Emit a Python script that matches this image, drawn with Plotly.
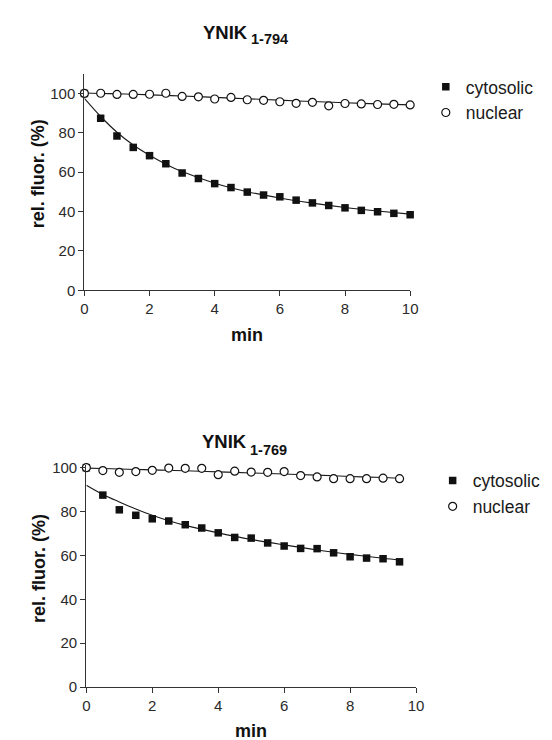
import plotly.graph_objects as go

W, H = 552, 740

# ---------------- data ----------------
time_794 = [0, 0.5, 1, 1.5, 2, 2.5, 3, 3.5, 4, 4.5, 5, 5.5, 6, 6.5, 7, 7.5, 8, 8.5, 9, 9.5, 10]
cyto_794 = [100, 87.4, 78.4, 72.6, 68.4, 64.3, 59.6, 56.8, 54.2, 52.2, 49.9, 48.4, 47.5, 45.8, 44.4, 43.1, 41.9, 40.6, 39.9, 39.1, 38.4]
nuc_794 = [100, 100.1, 99.5, 99.5, 99.6, 100.1, 98.5, 98.3, 97.2, 98.0, 96.8, 96.5, 95.8, 95.0, 95.5, 93.7, 94.9, 94.7, 94.4, 94.5, 94.2]
fit_t_794 = [0, 0.5, 1, 1.5, 2, 2.5, 3, 4, 5, 6, 7, 8, 9, 10]
fit_cyto_794 = [97.5, 88.3, 80.3, 73.8, 68.6, 64.1, 60.3, 54.4, 50.1, 46.9, 44.3, 42.1, 40.3, 38.7]
fit_nuc_794 = [100.2, 100.0, 99.8, 99.6, 99.3, 99.0, 98.7, 98.0, 97.3, 96.6, 95.9, 95.3, 94.7, 94.2]

time_769 = [0, 0.5, 1, 1.5, 2, 2.5, 3, 3.5, 4, 4.5, 5, 5.5, 6, 6.5, 7, 7.5, 8, 8.5, 9, 9.5]
cyto_769 = [100, 87.5, 80.8, 78.3, 76.7, 75.7, 74.0, 72.5, 70.3, 68.2, 67.9, 65.7, 64.3, 63.2, 63.1, 61.2, 59.4, 58.8, 58.5, 57.1]
nuc_769 = [100, 98.7, 97.9, 98.2, 98.8, 99.8, 99.7, 99.7, 96.8, 98.4, 98.0, 97.9, 98.2, 96.4, 95.8, 95.0, 95.0, 95.0, 95.2, 95.0]
fit_t_769 = [0, 0.5, 1, 1.5, 2, 2.5, 3, 4, 5, 6, 7, 8, 9, 9.5]
fit_cyto_769 = [92.0, 87.8, 84.4, 81.2, 78.3, 75.8, 73.7, 70.3, 67.3, 64.8, 62.5, 60.5, 58.7, 57.9]
fit_nuc_769 = [99.8, 99.6, 99.4, 99.2, 99.0, 98.8, 98.6, 98.1, 97.6, 97.1, 96.6, 96.0, 95.5, 95.2]

x_ticks = [0, 2, 4, 6, 8, 10]
y_ticks = [0, 20, 40, 60, 80, 100]
series_names = ["cytosolic", "nuclear"]
titles = [("YNIK", "1-794"), ("YNIK", "1-769")]
x_label = "min"
y_label = "rel. fluor. (%)"

FONT = "Liberation Sans, Arial, sans-serif"
INK = "#1a1a1a"

def px(x):
    return x / W

def py(y):
    return 1 - y / H

fig = go.Figure()

def add_panel(xa, ya, t, cyto, nuc, ft, fc, fn, legend):
    fig.add_trace(go.Scatter(x=ft, y=fc, mode="lines", line=dict(color=INK, width=1.1, shape="spline"),
                             xaxis=xa, yaxis=ya, showlegend=False, hoverinfo="skip"))
    fig.add_trace(go.Scatter(x=ft, y=fn, mode="lines", line=dict(color=INK, width=1.1, shape="spline"),
                             xaxis=xa, yaxis=ya, showlegend=False, hoverinfo="skip"))
    fig.add_trace(go.Scatter(x=t, y=cyto, mode="markers", name=series_names[0],
                             marker=dict(symbol="square", size=7.5, color="#111111", line=dict(width=0)),
                             xaxis=xa, yaxis=ya, legend=legend, cliponaxis=False))
    fig.add_trace(go.Scatter(x=t, y=nuc, mode="markers", name=series_names[1],
                             marker=dict(symbol="circle", size=8, color="white", line=dict(width=1.2, color="#111111")),
                             xaxis=xa, yaxis=ya, legend=legend, cliponaxis=False))

add_panel("x", "y", time_794, cyto_794, nuc_794, fit_t_794, fit_cyto_794, fit_nuc_794, "legend")
add_panel("x2", "y2", time_769, cyto_769, nuc_769, fit_t_769, fit_cyto_769, fit_nuc_769, "legend2")

axis_common = dict(showgrid=False, zeroline=False, showline=True, linecolor="#333333", linewidth=1.3,
                   ticks="outside", ticklen=5, tickwidth=1.3, tickcolor="#333333",
                   tickfont=dict(family=FONT, size=15, color="#2a2a2a"), fixedrange=True)

fig.update_layout(
    width=W, height=H, margin=dict(l=0, r=0, t=0, b=0),
    paper_bgcolor="white", plot_bgcolor="white",
    xaxis=dict(domain=[px(74), px(407)], range=[0, 10], tickvals=x_ticks, anchor="y", **axis_common),
    yaxis=dict(domain=[py(281), py(60)], range=[0, 110], tickvals=y_ticks, anchor="x", **axis_common),
    xaxis2=dict(domain=[px(76), px(413)], range=[0, 10], tickvals=x_ticks, anchor="y2", **axis_common),
    yaxis2=dict(domain=[py(686), py(459.8)], range=[0, 101], tickvals=y_ticks, anchor="x2", **axis_common),
    legend=dict(x=px(423), y=py(55), xanchor="left", yanchor="top", bgcolor="rgba(0,0,0,0)",
                font=dict(family=FONT, size=17.5, color=INK), itemwidth=30, borderwidth=0),
    legend2=dict(x=px(430), y=py(457), xanchor="left", yanchor="top", bgcolor="rgba(0,0,0,0)",
                 font=dict(family=FONT, size=17.5, color=INK), itemwidth=30, borderwidth=0),
)

ann = []
# titles
for (main, sub), (xr, ym, xs, ys) in zip(titles, [(243, 18, 242, 25), (242, 435, 241, 444)]):
    ann.append(dict(text="<b>%s</b>" % main, x=px(xr), y=py(ym), xref="paper", yref="paper",
                    xanchor="right", yanchor="middle", showarrow=False,
                    font=dict(family=FONT, size=18.5, color="#111111")))
    ann.append(dict(text="<b>%s</b>" % sub, x=px(xs), y=py(ys), xref="paper", yref="paper",
                    xanchor="left", yanchor="middle", showarrow=False,
                    font=dict(family=FONT, size=14.5, color="#111111")))
# axis labels
for (xm, ym) in [(240, 327), (244, 731)]:
    ann.append(dict(text="<b>%s</b>" % x_label, x=px(xm), y=py(ym), xref="paper", yref="paper",
                    xanchor="center", yanchor="middle", showarrow=False,
                    font=dict(family=FONT, size=18, color="#111111")))
for (xm, ym) in [(26, 162), (27, 565)]:
    ann.append(dict(text="<b>%s</b>" % y_label, x=px(xm), y=py(ym), xref="paper", yref="paper",
                    xanchor="center", yanchor="middle", textangle=-90, showarrow=False,
                    font=dict(family=FONT, size=18, color="#111111")))
fig.update_layout(annotations=ann)

fig.write_html("out.html")
